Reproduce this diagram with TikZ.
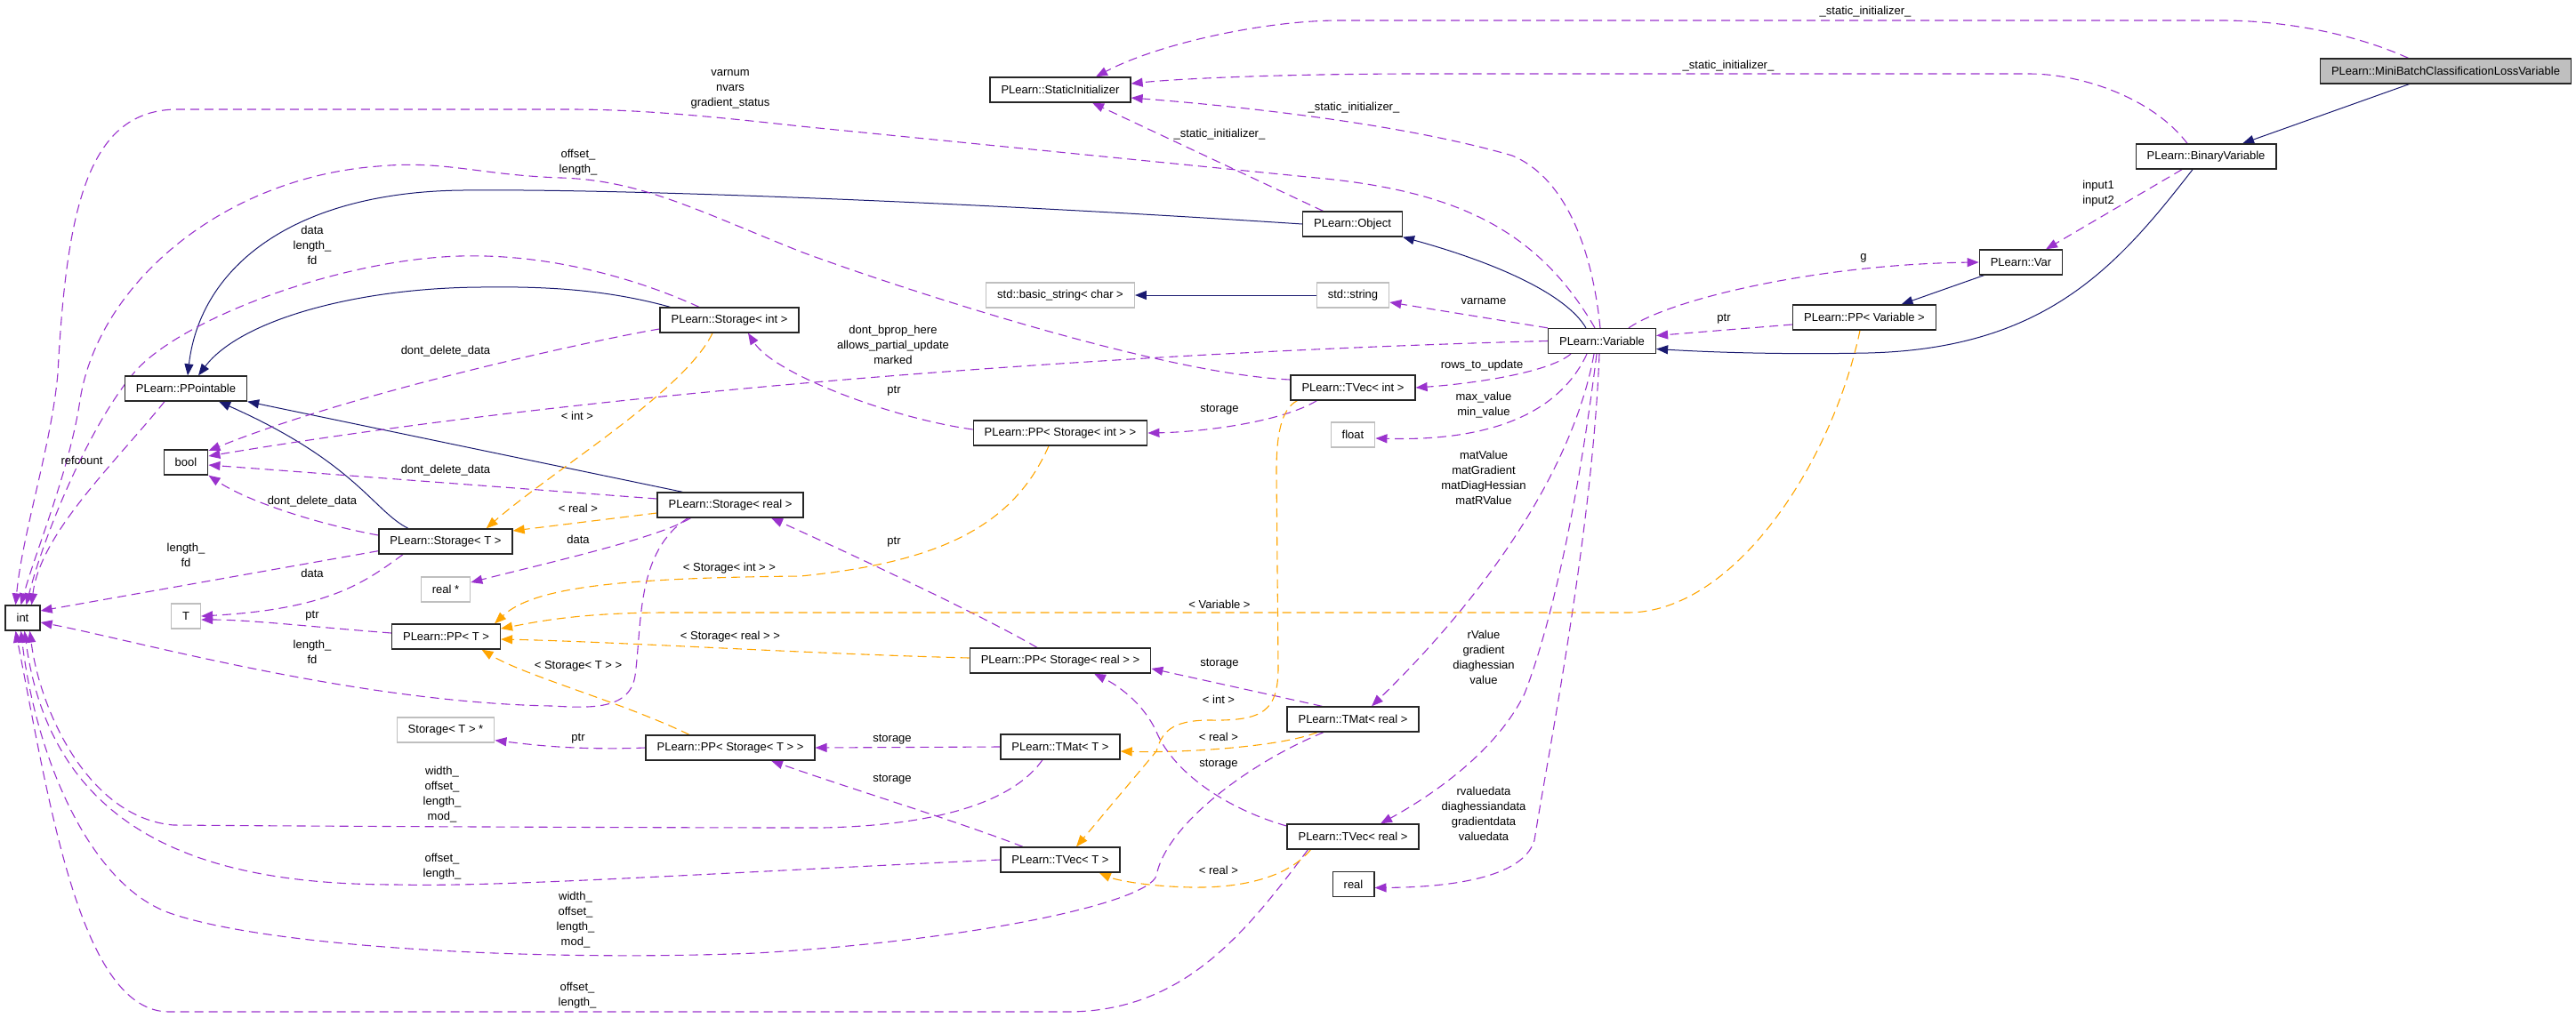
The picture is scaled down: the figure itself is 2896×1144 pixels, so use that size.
\documentclass[tikz,border=0pt]{standalone}
\usepackage{fontspec}
\setmainfont{Liberation Sans}
\usepackage{tikz}
\usetikzlibrary{arrows.meta,positioning,calc,backgrounds}
\definecolor{membcol}{HTML}{9A32CD}
\definecolor{inhcol}{HTML}{191970}
\definecolor{tmplcol}{HTML}{FFA500}
\definecolor{extcol}{HTML}{BFBFBF}
\tikzset{
  cls/.style={draw=black!85, line width=1.3pt, fill=white, minimum height=28pt, inner xsep=12.5pt, inner ysep=0pt, font=\fontsize{13}{16}\selectfont},
  ext/.style={cls, draw=extcol},
  lbl/.style={align=center, inner sep=0pt, font=\fontsize{13}{17}\selectfont},
  inhe/.style={draw=inhcol, line width=1pt, -{Triangle[length=13pt,width=10pt]}},
  memb/.style={draw=membcol, line width=1.1pt, dash pattern=on 10pt off 6pt, -{Triangle[length=13pt,width=10pt]}},
  tmpl/.style={memb, draw=tmplcol},
}
\begin{document}
\begin{tikzpicture}[x=1pt,y=-1pt]
\useasboundingbox (0,0) rectangle (2896,1144);
% nodes
\node[cls, fill=extcol] (mini) at (2749.5,80) {PLearn::MiniBatchClassificationLossVariable};
\node[cls] (binvar) at (2480,176) {PLearn::BinaryVariable};
\node[cls] (statinit) at (1192,101) {PLearn::StaticInitializer};
\node[cls] (object) at (1520.5,252) {PLearn::Object};
\node[ext] (basicstr) at (1192,332) {std::basic\_string< char >};
\node[ext] (stdstr) at (1521,332) {std::string};
\node[cls] (var) at (2272,295) {PLearn::Var};
\node[cls] (ppvariable) at (2096,357) {PLearn::PP< Variable >};
\node[cls] (variable) at (1801,383.5) {PLearn::Variable};
\node[cls] (ppointable) at (209,437) {PLearn::PPointable};
\node[cls] (storint) at (820,360) {PLearn::Storage< int >};
\node[cls] (tvecint) at (1521,436) {PLearn::TVec< int >};
\node[cls] (ppstorint) at (1192,487) {PLearn::PP< Storage< int > >};
\node[ext] (float) at (1521,489) {float};
\node[cls] (bool) at (209,520) {bool};
\node[cls] (storreal) at (821,568) {PLearn::Storage< real >};
\node[cls] (stort) at (501,609) {PLearn::Storage< T >};
\node[ext] (realptr) at (501,663) {real *};
\node[ext] (tnode) at (209,693) {T};
\node[cls, minimum width=39pt, inner xsep=4pt] (int) at (25.5,695) {int};
\node[cls] (ppt) at (501.5,716) {PLearn::PP< T >};
\node[cls] (ppstorreal) at (1192,743) {PLearn::PP< Storage< real > >};
\node[cls] (tmatreal) at (1521,809) {PLearn::TMat< real >};
\node[ext] (stortptr) at (501,821) {Storage< T > *};
\node[cls] (ppstort) at (821,841) {PLearn::PP< Storage< T > >};
\node[cls] (tmatt) at (1192,840) {PLearn::TMat< T >};
\node[cls] (tvecreal) at (1521,941) {PLearn::TVec< real >};
\node[cls] (tvect) at (1192,967) {PLearn::TVec< T >};
\node[cls] (real) at (1521.5,994.5) {real};

% labels
\node[lbl] (lsi1) at (2097,13) {\_static\_initializer\_};
\node[lbl] (lsi2) at (1943,74) {\_static\_initializer\_};
\node[lbl] (lsi3) at (1522,121) {\_static\_initializer\_};
\node[lbl] (lsi4) at (1371,151) {\_static\_initializer\_};
\node[lbl] (linput) at (2359,218) {input1\\input2};
\node[lbl] (lg) at (2095,290) {g};
\node[lbl] (lptrvar) at (1938,359) {ptr};
\node[lbl] (lvarname) at (1668,339) {varname};
\node[lbl] (lvarnum) at (821,100) {varnum\\nvars\\gradient\_status};
\node[lbl] (loffint) at (650,183) {offset\_\\length\_};
\node[lbl] (ldataint) at (351,276) {data\\length\_\\fd};
\node[lbl] (lrefcount) at (92,518) {refcount};
\node[lbl] (lbprop) at (1004,388) {dont\_bprop\_here\\allows\_partial\_update\\marked};
\node[lbl] (lrows) at (1666,411) {rows\_to\_update};
\node[lbl] (lminmax) at (1668,456) {max\_value\\min\_value};
\node[lbl] (lmat) at (1668,537) {matValue\\matGradient\\matDiagHessian\\matRValue};
\node[lbl] (lvec) at (1668,739) {rValue\\gradient\\diaghessian\\value};
\node[lbl] (lvecdata) at (1668,915) {rvaluedata\\diaghessiandata\\gradientdata\\valuedata};
\node[lbl] (ldd1) at (501,395) {dont\_delete\_data};
\node[lbl] (ldd2) at (501,529) {dont\_delete\_data};
\node[lbl] (ldd3) at (351,564) {dont\_delete\_data};
\node[lbl] (ltint) at (649,468) {< int >};
\node[lbl] (ltreal) at (650,572) {< real >};
\node[lbl] (ldatareal) at (650,607) {data};
\node[lbl] (ldatat) at (351,645) {data};
\node[lbl] (llenfd1) at (209,624) {length\_\\fd};
\node[lbl] (lptrt) at (351,693) {ptr};
\node[lbl] (llenfd2) at (351,733) {length\_\\fd};
\node[lbl] (lptrsi) at (1005,440) {ptr};
\node[lbl] (lptrsr) at (1005,610) {ptr};
\node[lbl] (lstorint) at (1371,461) {storage};
\node[lbl] (ltsi) at (820,639) {< Storage< int > >};
\node[lbl] (ltvar) at (1371,680) {< Variable >};
\node[lbl] (ltsr) at (821,716) {< Storage< real > >};
\node[lbl] (ltst) at (650,749) {< Storage< T > >};
\node[lbl] (lstormr) at (1371,747) {storage};
\node[lbl] (ltvint) at (1370,787) {< int >};
\node[lbl] (ltmreal) at (1370,829) {< real >};
\node[lbl] (lstorvr) at (1370,860) {storage};
\node[lbl] (lptrst) at (650,831) {ptr};
\node[lbl] (lstormt) at (1003,832) {storage};
\node[lbl] (lstorvt) at (1003,877) {storage};
\node[lbl] (ltvreal) at (1370,979) {< real >};
\node[lbl] (lwidth1) at (497,894) {width\_\\offset\_\\length\_\\mod\_};
\node[lbl] (loffvt) at (497,975) {offset\_\\length\_};
\node[lbl] (lwidth2) at (647,1035) {width\_\\offset\_\\length\_\\mod\_};
\node[lbl] (loffvr) at (649,1120) {offset\_\\length\_};

\begin{scope}[on background layer]
% inheritance
\draw[inhe] (mini) -- (binvar);
\draw[inhe] ($(binvar.south)+(-15,0)$) .. controls (2380,300) and (2300,392) .. (2100,397) .. controls (2000,399) and (1920,396) .. ($(variable.east)+(0,9)$);
\draw[inhe] (var) -- (ppvariable);
\draw[inhe] ($(variable.north)+(-18,0)$) .. controls (1760,330) and (1680,295) .. (object.south east);
\draw[inhe] (stdstr) -- (basicstr);
\draw[inhe] (object.west) .. controls (1100,228) and (700,212) .. (520,214) .. controls (330,216) and (225,300) .. ($(ppointable.north)+(2,0)$);
\draw[inhe] ($(storint.north west)+(12,0)$) .. controls (680,325) and (610,322) .. (540,323) .. controls (400,324) and (270,360) .. ($(ppointable.north)+(14,0)$);
\draw[inhe] ($(storreal.north west)+(29,0)$) -- (ppointable.south east);
\draw[inhe] ($(stort.north)+(-42,0)$) .. controls (420,575) and (400,520) .. ($(ppointable.south)+(37,0)$);

% members
\draw[memb] ($(mini.north)+(-42,0)$) .. controls (2640,35) and (2560,23) .. (2497,23) -- (1506,23) .. controls (1420,23) and (1300,50) .. ($(statinit.north)+(40,0)$);
\draw[memb] ($(binvar.north)+(-21,0)$) .. controls (2420,110) and (2340,83) .. (2281,83) -- (1600,83) .. controls (1450,83) and (1330,88) .. ($(statinit.east)+(0,-7)$);
\draw[memb] ($(variable.north)+(-2,0)$) .. controls (1790,280) and (1760,200) .. (1700,175) .. controls (1580,140) and (1400,120) .. ($(statinit.east)+(0,9)$);
\draw[memb] ($(object.north)+(-33,0)$) -- ($(statinit.south)+(36,0)$);
\draw[memb] ($(ppvariable.west)+(0,8)$) -- ($(variable.east)+(0,-6)$);
\draw[memb] ($(variable.north)+(30,0)$) .. controls (1880,335) and (2050,297) .. (var.west);
\draw[memb] ($(binvar.south)+(-27,0)$) -- ($(var.north)+(28,0)$);
\draw[memb] (variable.north west) -- ($(stdstr.east)+(0,8)$);
\draw[memb] (variable.west) .. controls (1300,395) and (700,435) .. ($(bool.east)+(0,-7)$);
\draw[memb] ($(variable.south west)+(26,0)$) .. controls (1740,420) and (1650,432) .. (tvecint.east);
\draw[memb] ($(variable.north)+(-8,0)$) .. controls (1730,260) and (1640,215) .. (1480,200) -- (900,142) .. controls (800,131) and (720,123) .. (640,123) -- (200,123) .. controls (100,123) and (75,230) .. (65,420) .. controls (58,500) and (25,600) .. ($(int.north)+(-8,0)$);
\draw[memb] ($(tvecint.west)+(0,-9)$) .. controls (1300,420) and (1000,320) .. (900,283) .. controls (780,235) and (720,203) .. (631,200) .. controls (540,197) and (500,180) .. (425,187) .. controls (250,200) and (110,320) .. (90,450) .. controls (78,530) and (40,620) .. ($(int.north)+(-2,0)$);
\draw[memb] ($(storint.north)+(-34,0)$) .. controls (720,315) and (620,285) .. (517,288) .. controls (380,292) and (200,360) .. (150,420) .. controls (100,480) and (50,600) .. ($(int.north)+(4,0)$);
\draw[memb] ($(ppointable.south)+(-24,0)$) .. controls (130,520) and (45,600) .. ($(int.north)+(10,0)$);
\draw[memb] ($(storint.west)+(0,10)$) .. controls (680,380) and (400,440) .. ($(bool.east)+(0,-13)$);
\draw[memb] ($(storreal.west)+(0,-7)$) -- ($(bool.east)+(0,3)$);
\draw[memb] ($(stort.west)+(0,-7)$) .. controls (360,590) and (280,565) .. (bool.south east);
\draw[memb] ($(storreal.south west)+(38,0)$) .. controls (740,605) and (620,632) .. ($(realptr.east)+(0,-8)$);
\draw[memb] ($(stort.south)+(-48,0)$) .. controls (410,655) and (370,685) .. (tnode.east);
\draw[memb] ($(stort.south west)+(0,-4)$) -- ($(int.east)+(0,-8)$);
\draw[memb] ($(ppt.west)+(0,-4)$) .. controls (350,705) and (280,697) .. ($(tnode.east)+(0,4)$);
\draw[memb] ($(storreal.south west)+(35,0)$) .. controls (715,620) and (722,700) .. (714,760) .. controls (708,800) and (660,796) .. (620,794) .. controls (400,790) and (150,720) .. ($(int.east)+(0,5)$);
\draw[memb] ($(ppstorreal.north)+(-26,0)$) .. controls (1100,690) and (950,620) .. ($(storreal.south)+(46,0)$);
\draw[memb] ($(ppstorint.west)+(0,-4)$) .. controls (1000,470) and (870,420) .. ($(storint.south)+(21,0)$);
\draw[memb] ($(tvecint.south west)+(30,0)$) .. controls (1440,475) and (1350,486) .. (ppstorint.east);
\draw[memb] (ppstort.west) .. controls (650,844) and (600,838) .. ($(stortptr.south east)+(0,-3)$);
\draw[memb] (tmatt.west) -- (ppstort.east);
\draw[memb] ($(tvect.north)+(-42,0)$) .. controls (1080,925) and (950,885) .. ($(ppstort.south)+(46,0)$);
\draw[memb] ($(tmatreal.north west)+(40,0)$) -- ($(ppstorreal.east)+(0,9)$);
\draw[memb] ($(tvecreal.west)+(0,-12)$) .. controls (1380,910) and (1320,870) .. (1300,823) .. controls (1285,790) and (1255,770) .. ($(ppstorreal.south)+(38,0)$);
\draw[memb] ($(tmatt.south)+(-20,0)$) .. controls (1140,900) and (1060,928) .. (925,931) .. controls (700,931) and (300,929) .. (195,928) .. controls (100,920) and (45,800) .. ($(int.south)+(8,0)$);
\draw[memb] (tvect.west) .. controls (800,982) and (560,998) .. (446,995) .. controls (250,995) and (60,950) .. ($(int.south)+(2,0)$);
\draw[memb] ($(tmatreal.south)+(-33,0)$) .. controls (1400,860) and (1310,930) .. (1300,985) .. controls (1290,1015) and (1100,1057) .. (850,1072) .. controls (600,1082) and (300,1065) .. (191,1027) .. controls (100,995) and (40,850) .. ($(int.south)+(-2,0)$);
\draw[memb] ($(tvecreal.south west)+(24,0)$) .. controls (1400,1050) and (1330,1138) .. (1200,1138) -- (190,1138) .. controls (90,1138) and (55,900) .. ($(int.south)+(-8,0)$);
\draw[memb] ($(variable.south)+(-17,0)$) .. controls (1760,450) and (1700,497) .. ($(float.east)+(0,4)$);
\draw[memb] ($(variable.south)+(-9,0)$) .. controls (1770,520) and (1680,660) .. ($(tmatreal.north)+(21,0)$);
\draw[memb] ($(variable.south)+(-6,0)$) .. controls (1775,560) and (1745,700) .. (1714,780) .. controls (1680,850) and (1600,900) .. ($(tvecreal.north)+(31,0)$);
\draw[memb] ($(variable.south)+(-3,0)$) .. controls (1790,600) and (1740,850) .. (1725,945) .. controls (1712,990) and (1620,998) .. ($(real.east)+(0,4)$);

% template instances
\draw[tmpl] ($(storint.south)+(-19,0)$) .. controls (770,440) and (620,530) .. ($(stort.north east)+(-30,0)$);
\draw[tmpl] ($(storreal.west)+(0,9)$) -- ($(stort.east)+(0,-12)$);
\draw[tmpl] ($(tvecint.south west)+(8,0)$) .. controls (1440,460) and (1435,490) .. (1435,530) -- (1437,750) .. controls (1437,800) and (1420,811) .. (1360,810) .. controls (1315,810) and (1306,825) .. (1300,845) -- ($(tvect.north)+(18,0)$);
\draw[tmpl] ($(ppstorint.south)+(-13,0)$) .. controls (1140,590) and (1060,632) .. (900,648) .. controls (700,650) and (600,660) .. ($(ppt.north east)+(-7,0)$);
\draw[tmpl] ($(ppvariable.south)+(-5,0)$) .. controls (2060,520) and (1950,689) .. (1830,689) -- (750,689) .. controls (650,689) and (600,700) .. ($(ppt.east)+(0,-9)$);
\draw[tmpl] ($(ppstorreal.west)+(0,-3)$) .. controls (900,735) and (700,722) .. ($(ppt.east)+(0,3)$);
\draw[tmpl] ($(ppstort.north)+(-46,0)$) .. controls (700,790) and (590,760) .. ($(ppt.south)+(40,0)$);
\draw[tmpl] ($(tmatreal.south)+(-40,0)$) .. controls (1440,840) and (1330,847) .. ($(tmatt.east)+(0,5)$);
\draw[tmpl] ($(tvecreal.south west)+(27,0)$) .. controls (1450,985) and (1400,999) .. (1340,998) .. controls (1290,997) and (1255,990) .. ($(tvect.south east)+(-24,0)$);
\end{scope}
\end{tikzpicture}
\end{document}
